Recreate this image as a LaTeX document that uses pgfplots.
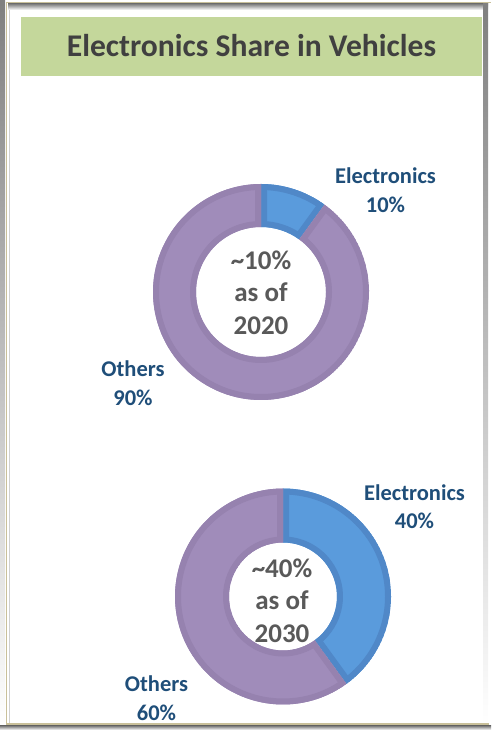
\documentclass[border=0pt]{standalone}
\usepackage{pgfplots}
\pgfplotsset{compat=1.18}
\usepackage{pgfplotstable}
\usepackage{fontspec}
\setmainfont{Carlito}

\definecolor{titleF}{HTML}{C4D79B}
\definecolor{titleT}{HTML}{404040}
\definecolor{blueF}{HTML}{5A9BDC}
\definecolor{blueE}{HTML}{5088C8}
\definecolor{purF}{HTML}{A08CBA}
\definecolor{purE}{HTML}{9682AF}
\definecolor{labT}{HTML}{1F4E79}
\definecolor{midT}{HTML}{595959}
\definecolor{tan}{HTML}{C9C09A}
\definecolor{shade}{HTML}{E4E4E4}

% share of a vehicle's value, in percent
\pgfplotstableread{
label       value fill  edge
Electronics 10    blueF blueE
Others      90    purF  purE
}\shareA
\pgfplotstableread{
label       value fill  edge
Electronics 40    blueF blueE
Others      60    purF  purE
}\shareB

% #1 table, #2 #3 centre, #4 outer radius, #5 inner radius (1 unit = 1bp)
\newcommand\donut[5]{%
  \pgfplotstablegetrowsof{#1}%
  \pgfmathtruncatemacro\nlast{\pgfplotsretval-1}%
  \gdef\angA{90}%
  \foreach \i in {0,...,\nlast}{%
    \pgfplotstablegetelem{\i}{value}\of{#1}\let\val\pgfplotsretval
    \pgfplotstablegetelem{\i}{fill}\of{#1}\let\fc\pgfplotsretval
    \pgfplotstablegetelem{\i}{edge}\of{#1}\let\ec\pgfplotsretval
    \pgfmathsetmacro\angB{\angA-3.6*\val}%
    \def\slice{(axis cs:{#2+#4*cos(\angA)},{#3+#4*sin(\angA)})
      arc[start angle=\angA,end angle=\angB,radius=#4bp]
      -- (axis cs:{#2+#5*cos(\angB)},{#3+#5*sin(\angB)})
      arc[start angle=\angB,end angle=\angA,radius=#5bp] -- cycle}%
    \begin{scope}
      \clip \slice;
      \fill[\fc] \slice;
      \draw[\ec, line width=12bp] \slice;
    \end{scope}
    \xdef\angA{\angB}%
  }%
}

\begin{document}
\begin{tikzpicture}
\begin{axis}[
  scale only axis, width=491bp, height=730bp,
  xmin=0, xmax=491, ymin=0, ymax=730,
  hide axis, clip=false]

% frame
\fill[shade] (axis cs:0,0) rectangle (axis cs:5,730);
\fill[shade] (axis cs:0,0) rectangle (axis cs:491,4);
\fill[shade] (axis cs:8,720) rectangle (axis cs:488,726);
\fill[shade] (axis cs:483,6) rectangle (axis cs:488,726);
\draw[shade!80!gray, line width=1bp] (axis cs:9.5,6) -- (axis cs:9.5,720);
\draw[tan, line width=1.6bp] (axis cs:6,727.5) -- (axis cs:491,727.5);
\draw[tan, line width=1.6bp] (axis cs:6.5,728) -- (axis cs:6.5,5);
\draw[tan, line width=1.6bp] (axis cs:6,6) -- (axis cs:489,6);

% title
\fill[titleF] (axis cs:21,654) rectangle (axis cs:482,713);
\node[anchor=base, text=titleT, font=\fontsize{31.6bp}{36bp}\selectfont\bfseries]
  at (axis cs:251.5,673) {Electronics Share in Vehicles};

\pgfplotsextra{\donut{\shareA}{261}{438}{108}{65}}
\pgfplotsextra{\donut{\shareB}{283}{133.5}{108}{54}}

% slice labels
\begin{scope}[every node/.style={anchor=base, text=labT,
    font=\fontsize{22.5bp}{27bp}\selectfont\bfseries}]
\node at (axis cs:385.5,546) {Electronics};
\node at (axis cs:385.5,517) {10\%};
\node at (axis cs:133,353) {Others};
\node at (axis cs:133,324) {90\%};
\node at (axis cs:414.5,229) {Electronics};
\node at (axis cs:414.5,201) {40\%};
\node at (axis cs:156.5,38) {Others};
\node at (axis cs:156.5,9) {60\%};
\end{scope}

% centre texts
\begin{scope}[every node/.style={anchor=base, text=midT,
    font=\fontsize{27bp}{33bp}\selectfont\bfseries}]
\node at (axis cs:261,460) {\textasciitilde10\%};
\node at (axis cs:261,428) {as of};
\node at (axis cs:261,395) {2020};
\node at (axis cs:282,152) {\textasciitilde40\%};
\node at (axis cs:282,120) {as of};
\node at (axis cs:282,87) {2030};
\end{scope}
\end{axis}
\end{tikzpicture}
\end{document}
